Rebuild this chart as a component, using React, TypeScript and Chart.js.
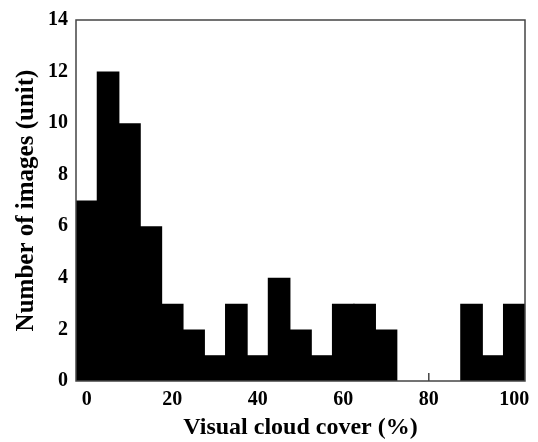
import React, { useEffect, useRef } from "react";
import { Chart, registerables } from "chart.js";

Chart.register(...registerables);

const binCenters: number[] = [0, 5, 10, 15, 20, 25, 30, 35, 40, 45, 50, 55, 60, 65, 70, 75, 80, 85, 90, 95, 100];
const counts: number[] = [7, 12, 10, 6, 3, 2, 1, 3, 1, 4, 2, 1, 3, 3, 2, 0, 0, 0, 3, 1, 3];
const xTickValues: number[] = [0, 20, 40, 60, 80, 100];
const yMax = 14;

const FONT = "'Liberation Serif', 'Times New Roman', serif";

const framePlugin = {
  id: "frame",
  beforeDatasetsDraw(chart: any) {
    const { ctx, chartArea } = chart;
    const x = chart.scales.x;
    ctx.save();
    ctx.strokeStyle = "#444";
    ctx.lineWidth = 1.5;
    chart.data.labels.forEach((lab: string, i: number) => {
      if (xTickValues.includes(Number(lab))) {
        const px = x.getPixelForValue(i);
        ctx.beginPath();
        ctx.moveTo(px, chartArea.bottom);
        ctx.lineTo(px, chartArea.bottom - 8);
        ctx.stroke();
      }
    });
    ctx.restore();
  },
  afterDatasetsDraw(chart: any) {
    const { ctx, chartArea } = chart;
    ctx.save();
    ctx.strokeStyle = "#444";
    ctx.lineWidth = 1.5;
    ctx.strokeRect(chartArea.left, chartArea.top, chartArea.right - chartArea.left, chartArea.bottom - chartArea.top);
    ctx.restore();
  },
};

export default function App() {
  const ref = useRef<HTMLCanvasElement>(null);
  useEffect(() => {
    if (!ref.current) return;
    const chart = new Chart(ref.current, {
      type: "bar",
      data: {
        labels: binCenters.map(String),
        datasets: [
          {
            data: counts,
            backgroundColor: "#000",
            borderWidth: 0,
            barPercentage: 1.06,
            categoryPercentage: 1,
          },
        ],
      },
      plugins: [framePlugin],
      options: {
        animation: false,
        responsive: true,
        maintainAspectRatio: false,
        layout: { padding: { left: 0, top: 20, right: 13, bottom: 0 } },
        plugins: { legend: { display: false }, tooltip: { enabled: false } },
        scales: {
          x: {
            offset: true,
            grid: { display: false, drawTicks: false },
            border: { display: false },
            ticks: {
              autoSkip: false,
              maxRotation: 0,
              padding: 7,
              color: "#000",
              font: { family: FONT, size: 20, weight: "bold" },
              callback: (_v: any, i: number) =>
                xTickValues.includes(binCenters[i]) ? String(binCenters[i]) : "",
            },
            title: {
              display: true,
              text: "Visual cloud cover (%)",
              color: "#000",
              font: { family: FONT, size: 24, weight: "bold" },
              padding: { top: 0, bottom: 0 },
            },
            afterFit: (s: any) => {
              s.height = 61;
            },
          },
          y: {
            min: 0,
            max: yMax,
            grid: { display: false, drawTicks: false },
            border: { display: false },
            ticks: {
              stepSize: 2,
              padding: 8,
              color: "#000",
              font: { family: FONT, size: 20, weight: "bold" },
            },
            title: {
              display: true,
              text: "Number of images (unit)",
              color: "#000",
              font: { family: FONT, size: 25, weight: "bold" },
              padding: { top: 12, bottom: 0 },
            },
            afterFit: (s: any) => {
              s.width = 76;
            },
          },
        },
      },
    } as any);
    return () => chart.destroy();
  }, []);
  return (
    <div style={{ position: "fixed", left: 0, top: 0, width: 538, height: 442, background: "#fff" }}>
      <canvas ref={ref} />
    </div>
  );
}
